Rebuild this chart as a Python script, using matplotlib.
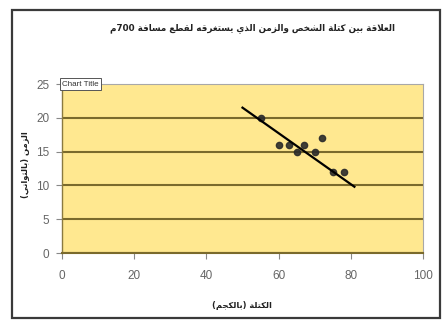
import re
import matplotlib
matplotlib.use("Agg")
import matplotlib.pyplot as plt
from matplotlib.patches import Rectangle

# ---- data -------------------------------------------------------------
mass_kg = [55, 60, 63, 65, 67, 70, 72, 75, 78]
time_s = [20, 16, 16, 15, 16, 15, 17, 12, 12]
trend_x = [50, 81]
trend_y = [21.5, 9.8]
x_ticks = [0, 20, 40, 60, 80, 100]
y_ticks = [0, 5, 10, 15, 20, 25]

title_text = "العلاقة بين كتلة الشخص والزمن الذي يستغرقه لقطع مسافة 700م"
xlabel_text = "الكتلة (بالكجم)"
ylabel_text = "الزمن (بالثواني)"

# ---- minimal Arabic shaping + right-to-left ordering -------------------
DUAL = {'ب': 0xFE8F, 'ت': 0xFE95, 'ث': 0xFE99, 'ج': 0xFE9D, 'ح': 0xFEA1,
        'خ': 0xFEA5, 'س': 0xFEB1, 'ش': 0xFEB5, 'ص': 0xFEB9, 'ض': 0xFEBD,
        'ط': 0xFEC1, 'ظ': 0xFEC5, 'ع': 0xFEC9, 'غ': 0xFECD, 'ف': 0xFED1,
        'ق': 0xFED5, 'ك': 0xFED9, 'ل': 0xFEDD, 'م': 0xFEE1, 'ن': 0xFEE5,
        'ه': 0xFEE9, 'ي': 0xFEF1}
RIGHT = {'ا': 0xFE8D, 'ة': 0xFE93, 'د': 0xFEA9, 'ذ': 0xFEAB, 'ر': 0xFEAD,
         'ز': 0xFEAF, 'و': 0xFEED, 'ى': 0xFEEF}


def shape(text):
    out = []
    prev_conn = False
    i, n = 0, len(text)
    while i < n:
        c = text[i]
        if c == 'ل' and i + 1 < n and text[i + 1] == 'ا':
            out.append(chr(0xFEFC if prev_conn else 0xFEFB))
            prev_conn = False
            i += 2
            continue
        if c in DUAL or c in RIGHT:
            nxt = text[i + 1] if i + 1 < n else None
            if c in RIGHT:
                code = RIGHT[c] + (1 if prev_conn else 0)
            else:
                next_conn = nxt is not None and (nxt in DUAL or nxt in RIGHT)
                base = DUAL[c]
                if prev_conn and next_conn:
                    code = base + 3
                elif prev_conn:
                    code = base + 1
                elif next_conn:
                    code = base + 2
                else:
                    code = base
            out.append(chr(code))
            prev_conn = c in DUAL
        else:
            out.append(c)
            prev_conn = False
        i += 1
    return ''.join(out)


def rtl(text):
    s = shape(text)[::-1]
    s = re.sub(r'[0-9]+', lambda m: m.group(0)[::-1], s)
    return s.translate(str.maketrans('()', ')('))


# ---- figure -----------------------------------------------------------
W, H = 442, 320
fig = plt.figure(figsize=(W / 100, H / 100), dpi=100)
fig.patch.set_facecolor('white')

# outer chart frame
fig.patches.append(Rectangle((12 / W, 2 / H), 428 / W, 308 / H,
                             transform=fig.transFigure, fill=False,
                             edgecolor='#3a3a3a', linewidth=1.6))

ax = fig.add_axes([62 / W, (H - 253) / H, (423 - 62) / W, (253 - 84) / H])
ax.set_facecolor('#FFE890')
ax.set_xlim(0, 100)
ax.set_ylim(0, 25)

grid_color = '#7a6a2c'
for yv in y_ticks[:-1]:
    ax.axhline(yv, color=grid_color, linewidth=1.5, zorder=1)

for side in ['top', 'right']:
    ax.spines[side].set_color('#a8a8a8')
    ax.spines[side].set_linewidth(0.8)
ax.spines['left'].set_color('#8a7a40')
ax.spines['left'].set_linewidth(1.0)
ax.spines['bottom'].set_color(grid_color)
ax.spines['bottom'].set_linewidth(1.5)

ax.set_xticks(x_ticks)
ax.set_yticks(y_ticks)
tick_font = ['Liberation Sans', 'DejaVu Sans']
ax.tick_params(axis='both', direction='out', length=4, width=0.8,
               color='#888888', labelcolor='#666666', labelsize=8.5, pad=5)
ax.tick_params(axis='x', pad=8)
for lab in ax.get_xticklabels() + ax.get_yticklabels():
    lab.set_family(tick_font)

ax.plot(mass_kg, time_s, linestyle='none', marker='o', markersize=4.5,
        color='#2b2b2b', alpha=0.9, zorder=3)
ax.plot(trend_x, trend_y, color='black', linewidth=1.6, zorder=4)

# leftover default title box
ax.text(0.0, 1.0, 'Chart Title', transform=ax.transAxes, fontsize=5.8,
        family=tick_font, color='#333333', ha='left', va='center',
        bbox=dict(boxstyle='square,pad=0.3', facecolor='white',
                  edgecolor='#555555', linewidth=0.7), zorder=5)

fig.text(252 / W, 1 - 28 / H, rtl(title_text), ha='center', va='center',
         fontsize=6.3, fontweight='bold', color='#222222', family='DejaVu Sans')
fig.text(242 / W, 1 - 305 / H, rtl(xlabel_text), ha='center', va='center',
         fontsize=6, fontweight='bold', color='#222222', family='DejaVu Sans')
fig.text(26 / W, 1 - 165 / H, rtl(ylabel_text), ha='center', va='center',
         rotation=90, fontsize=6, fontweight='bold', color='#222222',
         family='DejaVu Sans')

fig.savefig('out.png', dpi=100, facecolor='white')
